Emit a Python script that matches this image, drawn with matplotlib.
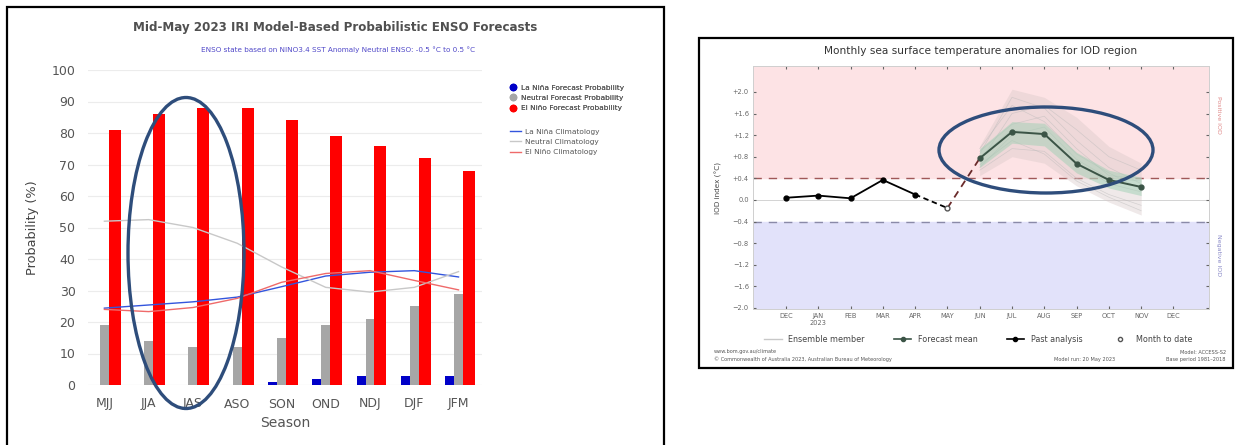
import numpy as np
import matplotlib
matplotlib.use("Agg")
from matplotlib import pyplot as plt
from matplotlib.patches import Ellipse, Rectangle
from matplotlib.lines import Line2D

# ---- left panel: IRI ENSO probabilities
seasons = ["MJJ", "JJA", "JAS", "ASO", "SON", "OND", "NDJ", "DJF", "JFM"]
la_nina_prob = [0, 0, 0, 0, 1, 2, 3, 3, 3]
neutral_prob = [19, 14, 12, 12, 15, 19, 21, 25, 29]
el_nino_prob = [81, 86, 88, 88, 84, 79, 76, 72, 68]
la_nina_clim = [24.4, 25.4, 26.4, 27.9, 31.2, 34.6, 35.8, 36.3, 34.3]
neutral_clim = [52, 52.5, 50, 45, 37.5, 31, 29.5, 31, 36]
el_nino_clim = [24, 23.3, 24.6, 27.5, 32.6, 35.4, 36.3, 33.2, 30.2]

# ---- right panel: BoM IOD outlook
months = ["DEC", "JAN\n2023", "FEB", "MAR", "APR", "MAY", "JUN", "JUL", "AUG",
          "SEP", "OCT", "NOV", "DEC"]
past_analysis = [0.04, 0.08, 0.03, 0.37, 0.10]
month_to_date = -0.15
forecast_mean = [0.77, 1.26, 1.22, 0.67, 0.37, 0.24]
spread_lo = [0.45, 0.80, 0.68, 0.26, -0.04, -0.28]
spread_hi = [1.00, 2.05, 1.90, 1.53, 0.99, 0.68]
band_lo = [0.60, 1.05, 1.00, 0.50, 0.22, 0.08]
band_hi = [0.95, 1.45, 1.42, 0.88, 0.55, 0.42]
members = [
    [0.70, 1.60, 1.75, 1.30, 0.80, 0.55],
    [0.85, 1.90, 1.70, 1.10, 0.60, 0.30],
    [0.55, 0.95, 0.90, 0.40, 0.10, -0.10],
    [0.90, 1.40, 1.55, 0.95, 0.45, 0.40],
    [0.65, 1.10, 0.85, 0.35, 0.05, -0.20],
    [0.80, 1.30, 1.20, 0.70, 0.30, 0.15],
    [0.95, 1.75, 1.45, 0.85, 0.50, 0.20],
    [0.60, 1.20, 1.35, 0.75, 0.40, 0.35],
]

W, H = 1235, 445
fig = plt.figure(figsize=(W / 100, H / 100), dpi=100)


def fx(px):
    return px / W


def fy(py):
    return 1 - py / H


# ================= left chart
ax = fig.add_axes([fx(88), fy(385), fx(482 - 88), (385 - 70) / H])
x = np.arange(len(seasons))
ax.bar(x - 0.2, la_nina_prob, width=0.2, color="#0000c8", zorder=3)
ax.bar(x, neutral_prob, width=0.2, color="#a6a6a6", zorder=3)
ax.bar(x + 0.235, el_nino_prob, width=0.27, color="#ff0000", zorder=3)
ax.plot(x, la_nina_clim, color="#3355dd", lw=1.0, zorder=4)
ax.plot(x, neutral_clim, color="#c8c8c8", lw=1.0, zorder=4)
ax.plot(x, el_nino_clim, color="#ef6a6a", lw=1.0, zorder=4)
ax.set_xlim(-0.37, 8.53)
ax.set_ylim(0, 100)
ax.set_yticks(range(0, 101, 10))
ax.set_xticks(x)
ax.set_xticklabels(seasons)
ax.grid(axis="y", color="#ececec", lw=0.8, zorder=0)
for s in ax.spines.values():
    s.set_visible(False)
ax.axhline(0, color="#e0e0e0", lw=0.8, zorder=1)
ax.tick_params(length=0, labelsize=9, colors="#555555", pad=9)
ax.set_ylabel("Probability (%)", fontsize=9.3, color="#444444", labelpad=9)
ax.set_xlabel("Season", fontsize=10, color="#555555", labelpad=4)

fig.text(fx(335), fy(28), "Mid-May 2023 IRI Model-Based Probabilistic ENSO Forecasts",
         ha="center", va="center", fontsize=8.6, color="#505050", fontweight="bold")
fig.text(fx(338), fy(50),
         "ENSO state based on NINO3.4 SST Anomaly Neutral ENSO: -0.5 \u00b0C to 0.5 \u00b0C",
         ha="center", va="center", fontsize=5.2, color="#5048c8")

h1 = [Line2D([], [], marker="o", ls="", color=c, ms=4.5)
      for c in ["#0000c8", "#a6a6a6", "#ff0000"]]
leg1 = fig.legend(h1, ["La Ni\u00f1a Forecast Probability", "Neutral Forecast Probability",
                       "El Ni\u00f1o Forecast Probability"],
                  loc="upper left", bbox_to_anchor=(fx(503), fy(78)), frameon=False,
                  fontsize=5.3, handlelength=1.0, handletextpad=0.6, labelspacing=0.55,
                  labelcolor="#555555")
h2 = [Line2D([], [], color=c, lw=1) for c in ["#3355dd", "#c8c8c8", "#ef6a6a"]]
fig.legend(h2, ["La Ni\u00f1a Climatology", "Neutral Climatology", "El Ni\u00f1o Climatology"],
           loc="upper left", bbox_to_anchor=(fx(503), fy(122)), frameon=False,
           fontsize=5.3, handlelength=1.6, handletextpad=0.5, labelspacing=0.55,
           labelcolor="#555555")
fig.add_artist(leg1)

# ================= right chart
ax2 = fig.add_axes([fx(753), fy(309), fx(1209 - 753), (309 - 66) / H])
xm = np.arange(len(months))
ax2.set_xlim(-1.02, 13.1)
ax2.set_ylim(-2.02, 2.48)
ax2.axhspan(0.4, 3, color="#fde3e5", zorder=0)
ax2.axhspan(-3, -0.4, color="#e2e2fa", zorder=0)
ax2.axhline(0.4, color="#a05858", ls=(0, (6, 5)), lw=1.0, zorder=1)
ax2.axhline(-0.4, color="#8a8aa8", ls=(0, (6, 5)), lw=1.0, zorder=1)
ax2.axhline(0, color="#cccccc", lw=0.6, zorder=1)

fx_pos = xm[6:12]
ax2.fill_between(fx_pos, spread_lo, spread_hi, color="#d9c8c8", alpha=0.4, lw=0, zorder=2)
for m in members:
    ax2.plot(fx_pos, m, color="#b8b8b8", lw=0.5, alpha=0.5, zorder=2)
ax2.fill_between(fx_pos, band_lo, band_hi, color="#9fd0b4", alpha=0.5, lw=0, zorder=3)
ax2.plot(xm[:5], past_analysis, color="black", lw=1.3, marker="o", ms=3.5, zorder=5)
ax2.plot([xm[4], xm[5]], [past_analysis[-1], month_to_date], color="black", lw=1.3,
         ls=(0, (3, 2)), zorder=5)
ax2.plot(xm[5], month_to_date, marker="o", ms=3.5, mfc="white", mec="#555555", ls="", zorder=6)
ax2.plot([xm[5], xm[6]], [month_to_date, forecast_mean[0]], color="#6a2a2a", lw=1.3,
         ls=(0, (4, 3)), zorder=5)
ax2.plot(fx_pos, forecast_mean, color="#3b5446", lw=1.4, marker="o", ms=3.5, zorder=6)

ax2.set_xticks(xm)
ax2.set_xticklabels(months)
yt = np.arange(-2.0, 2.01, 0.4)
ax2.set_yticks(yt)
ax2.set_yticklabels([("+%.1f" % v if v > 0.01 else ("0.0" if abs(v) < 0.01 else "\u2212%.1f" % -v))
                     for v in yt])
ax2.tick_params(labelsize=4.8, colors="#666666", length=2, direction="in",
                top=True, right=True, pad=3)
for s in ax2.spines.values():
    s.set_color("#cfcfcf")
    s.set_linewidth(0.7)
ax2.set_ylabel("IOD index (\u00b0C)", fontsize=5.2, color="#444444", labelpad=8)
ax2.set_title("Monthly sea surface temperature anomalies for IOD region",
              fontsize=7.6, color="#333333", pad=9)
ax2.text(1.02, 0.8, "Positive IOD", transform=ax2.transAxes, rotation=270,
         fontsize=4.5, color="#e08a8a", ha="center", va="center")
ax2.text(1.02, 0.22, "Negative IOD", transform=ax2.transAxes, rotation=270,
         fontsize=4.5, color="#8a8ac8", ha="center", va="center")

h3 = [Line2D([], [], color="#c8c8c8", lw=1),
      Line2D([], [], color="#3b5446", lw=1.2, marker="o", ms=3),
      Line2D([], [], color="black", lw=1.2, marker="o", ms=3),
      Line2D([], [], ls="", marker="o", ms=3, mfc="white", mec="#555555")]
fig.legend(h3, ["Ensemble member", "Forecast mean", "Past analysis", "Month to date"],
           loc="center", bbox_to_anchor=(fx(978), fy(339)), ncol=4, frameon=False,
           fontsize=5.8, handlelength=2.2, columnspacing=3.6, labelcolor="#444444")

fig.text(fx(714), fy(352), "www.bom.gov.au/climate", fontsize=3.6, color="#555555", va="center")
fig.text(fx(714), fy(359),
         "\u00a9 Commonwealth of Australia 2023, Australian Bureau of Meteorology",
         fontsize=3.6, color="#555555", va="center")
fig.text(fx(1085), fy(359), "Model run: 20 May 2023", fontsize=3.6, color="#555555",
         va="center", ha="center")
fig.text(fx(1226), fy(352), "Model: ACCESS-S2", fontsize=3.6, color="#555555",
         va="center", ha="right")
fig.text(fx(1226), fy(359), "Base period 1981\u20132018", fontsize=3.6, color="#555555",
         va="center", ha="right")

# ================= frames and highlight ellipses
fig.add_artist(Rectangle((fx(7), -0.02), fx(664 - 7), fy(7) + 0.02, fill=False,
                         ec="black", lw=1.6, transform=fig.transFigure))
fig.add_artist(Rectangle((fx(699), fy(368)), fx(1233 - 699), (368 - 38) / H, fill=False,
                         ec="black", lw=1.6, transform=fig.transFigure))
fig.add_artist(Ellipse((fx(186), fy(253)), fx(116), 311 / H, fill=False,
                       ec="#2e4d7b", lw=2.4, transform=fig.transFigure))
fig.add_artist(Ellipse((fx(1046), fy(150)), fx(214), 86 / H, fill=False,
                       ec="#2e4d7b", lw=2.4, transform=fig.transFigure))

fig.savefig("out.png", dpi=100)
